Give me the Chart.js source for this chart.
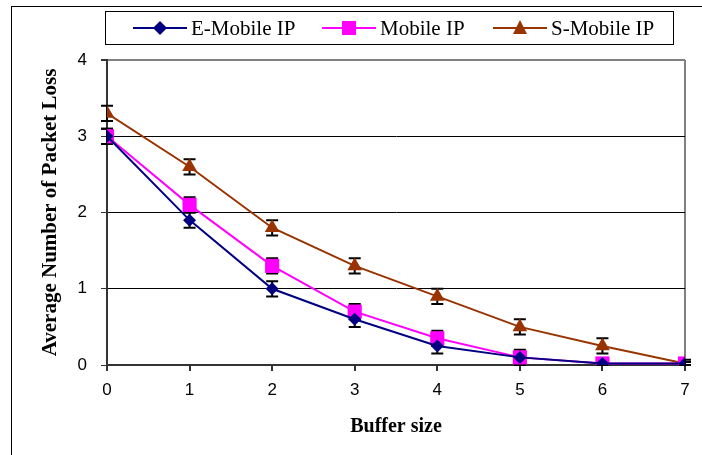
<!DOCTYPE html>
<html>
<head>
<meta charset="utf-8">
<script src="https://cdn.jsdelivr.net/npm/chart.js@4/dist/chart.umd.min.js"></script>
<style>
  body { margin: 0; background: #fff; }
  #wrap { position: relative; width: 702px; height: 455px; }
  #frame { position: absolute; left: 11px; top: 6px; width: 700px; height: 460px;
           border-left: 1px solid #000; border-top: 1px solid #000; }
  canvas { position: absolute; left: 0; top: 0; }
</style>
</head>
<body>
<div id="wrap">
  <div id="frame"></div>
  <canvas id="chart" width="702" height="455"></canvas>
</div>
<script>
// data
const bufferSize = [0, 1, 2, 3, 4, 5, 6, 7];
const eMobile = [3.0, 1.9, 1.0, 0.6, 0.25, 0.1, 0.02, 0.02];
const mobile = [3.0, 2.1, 1.3, 0.7, 0.35, 0.1, 0.02, 0.02];
const sMobile = [3.3, 2.6, 1.8, 1.3, 0.9, 0.5, 0.25, 0.02];
const eMobileErr = [0.1, 0.1, 0.1, 0.1, 0.1, 0.05, 0.02, 0.02];
const mobileErr = [0.1, 0.1, 0.1, 0.1, 0.1, 0.1, 0.02, 0.02];
const sMobileErr = [0.1, 0.1, 0.1, 0.1, 0.1, 0.1, 0.1, 0.05];
const yTicks = [0, 1, 2, 3, 4];

const series = [
  { label: 'E-Mobile IP', data: eMobile, err: eMobileErr, color: '#000080', point: 'rectRot', r: 6.5 },
  { label: 'Mobile IP', data: mobile, err: mobileErr, color: '#FF00FF', point: 'rect', r: 10 },
  { label: 'S-Mobile IP', data: sMobile, err: sMobileErr, color: '#993300', point: 'triangle', r: 8.5 }
];

// error bars drawn from the data arrays through the chart scales, behind the markers
const errorBars = {
  id: 'errorBars',
  beforeDatasetsDraw(chart) {
    const { ctx, scales: { x, y } } = chart;
    ctx.save();
    ctx.strokeStyle = '#000';
    ctx.lineWidth = 2;
    series.forEach(s => {
      s.data.forEach((v, i) => {
        const px = x.getPixelForValue(bufferSize[i]);
        const top = y.getPixelForValue(v + s.err[i]);
        const bot = y.getPixelForValue(Math.max(0, v - s.err[i]));
        ctx.beginPath();
        ctx.moveTo(px, top); ctx.lineTo(px, bot);
        ctx.moveTo(px - 6, top); ctx.lineTo(px + 6, top);
        ctx.moveTo(px - 6, bot); ctx.lineTo(px + 6, bot);
        ctx.stroke();
      });
    });
    ctx.restore();
  }
};

// boxed legend: line with marker, then label
const boxLegend = {
  id: 'boxLegend',
  afterDraw(chart) {
    const ctx = chart.ctx;
    ctx.save();
    ctx.fillStyle = '#fff';
    ctx.fillRect(105, 11, 569, 34);
    ctx.strokeStyle = '#000';
    ctx.lineWidth = 1;
    ctx.strokeRect(105.5, 11.5, 568, 33);
    const starts = [133, 322, 493];
    const cy = 28;
    ctx.font = '21px "Liberation Serif"';
    ctx.textBaseline = 'middle';
    series.forEach((s, i) => {
      const x0 = starts[i];
      ctx.strokeStyle = s.color;
      ctx.lineWidth = 2;
      ctx.beginPath();
      ctx.moveTo(x0, cy); ctx.lineTo(x0 + 54, cy);
      ctx.stroke();
      ctx.fillStyle = s.color;
      const mx = x0 + 27;
      ctx.beginPath();
      if (s.point === 'rectRot') {
        ctx.moveTo(mx, cy - 7); ctx.lineTo(mx + 7, cy); ctx.lineTo(mx, cy + 7); ctx.lineTo(mx - 7, cy);
      } else if (s.point === 'rect') {
        ctx.rect(mx - 7, cy - 7, 14, 14);
      } else {
        ctx.moveTo(mx, cy - 8); ctx.lineTo(mx + 7, cy + 6); ctx.lineTo(mx - 7, cy + 6);
      }
      ctx.closePath();
      ctx.fill();
      ctx.fillStyle = '#000';
      ctx.fillText(s.label, x0 + 58, cy + 1);
    });
    ctx.restore();
  }
};

new Chart(document.getElementById('chart'), {
  type: 'line',
  data: {
    datasets: series.map(s => ({
      label: s.label,
      data: s.data.map((v, i) => ({ x: bufferSize[i], y: v })),
      borderColor: s.color,
      backgroundColor: s.color,
      borderWidth: 2,
      pointStyle: s.point,
      pointRadius: s.r,
      pointHoverRadius: s.r,
      pointBorderWidth: 0,
      tension: 0
    }))
  },
  options: {
    responsive: false,
    animation: false,
    events: [],
    layout: { padding: { left: 0, right: 17, top: 60, bottom: 0 } },
    plugins: { legend: { display: false }, tooltip: { enabled: false } },
    scales: {
      x: {
        type: 'linear',
        min: 0, max: 7,
        afterFit: s => { s.height = 90; },
        afterBuildTicks: s => { s.ticks = bufferSize.map(v => ({ value: v })); },
        grid: {
          drawOnChartArea: true,
          color: c => c.tick && c.tick.value === 7 ? '#808080' : 'rgba(0,0,0,0)',
          lineWidth: 2,
          tickColor: '#333',
          tickLength: 6
        },
        border: { color: '#333', width: 2 },
        ticks: { color: '#000', font: { family: 'Liberation Sans', size: 17 }, padding: 9 },
        title: {
          display: true, text: 'Buffer size', color: '#000',
          font: { family: 'Liberation Serif', size: 20, weight: 'bold' },
          padding: { top: 12, bottom: 16 }
        }
      },
      y: {
        min: 0, max: 4,
        afterFit: s => { s.width = 107; },
        afterBuildTicks: s => { s.ticks = yTicks.map(v => ({ value: v })); },
        grid: {
          color: c => c.tick && c.tick.value === 4 ? '#808080' : '#000',
          lineWidth: c => c.tick && c.tick.value === 4 ? 2 : 1,
          tickColor: '#333',
          tickLength: 6
        },
        border: { color: '#333', width: 2 },
        ticks: { color: '#000', font: { family: 'Liberation Sans', size: 17 }, padding: 14 },
        title: {
          display: true, text: 'Average Number of Packet Loss', color: '#000',
          font: { family: 'Liberation Serif', size: 21, weight: 'bold' },
          padding: { top: 38, bottom: 0 }
        }
      }
    }
  },
  plugins: [errorBars, boxLegend]
});
</script>
</body>
</html>
